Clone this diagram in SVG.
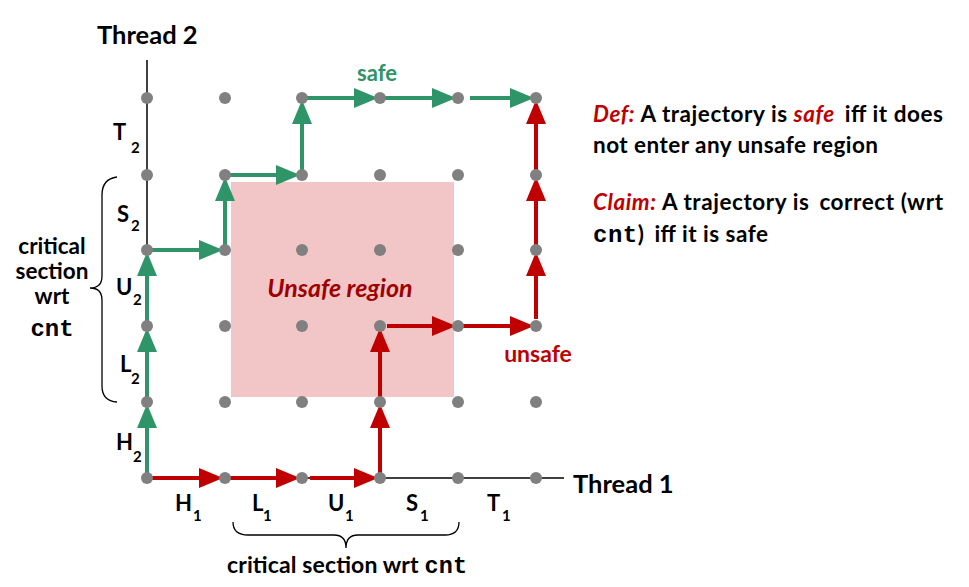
<svg xmlns="http://www.w3.org/2000/svg" width="969" height="587" viewBox="0 0 969 587">
<defs>
<style>
text{font-family:Lato,"Liberation Sans",sans-serif;font-weight:bold;fill:#000}
.lab{font-size:22px}
.sub{font-size:15px}
.mono{font-family:"Liberation Mono","DejaVu Sans Mono",monospace;font-weight:bold}
.red{fill:#C00000;font-style:italic}
.g{stroke:#2F9467;stroke-width:4;fill:none;marker-end:url(#ag)}
.r{stroke:#C00000;stroke-width:4;fill:none;marker-end:url(#ar)}
.dot{fill:#808080}
.axis{stroke:#000;stroke-width:1.5;fill:none}
.brace{stroke:#000;stroke-width:1.3;fill:none}
.def{font-size:22.5px}
</style>
<marker id="ag" markerUnits="userSpaceOnUse" markerWidth="26" markerHeight="20" refX="12" refY="10" orient="auto">
<path d="M0,0 L24,10 L0,20 z" fill="#2F9467"/>
</marker>
<marker id="ar" markerUnits="userSpaceOnUse" markerWidth="26" markerHeight="20" refX="12" refY="10" orient="auto">
<path d="M0,0 L24,10 L0,20 z" fill="#C00000"/>
</marker>
</defs>
<rect x="0" y="0" width="969" height="587" fill="#fff"/>

<g id="unsafe-region">
<rect x="231" y="182" width="223" height="215" fill="#F2C6C6"/>
<text x="340" y="297" text-anchor="middle" style="font-size:25px;font-style:italic;fill:#9E0000">Unsafe region</text>
</g>

<g id="axes">
<line class="axis" x1="147" y1="60" x2="147" y2="478"/>
<line class="axis" x1="147" y1="478" x2="564" y2="478"/>
<text x="97" y="44" style="font-size:25.5px">Thread 2</text>
<text x="573" y="493" style="font-size:25.5px">Thread 1</text>
</g>

<g id="thread2-labels">
<text class="lab" x="113" y="140">T<tspan class="sub" x="131" y="153">2</tspan></text>
<text class="lab" x="117" y="222">S<tspan class="sub" x="131" y="231">2</tspan></text>
<text class="lab" x="116" y="295">U<tspan class="sub" x="133" y="305">2</tspan></text>
<text class="lab" x="120" y="372">L<tspan class="sub" x="131" y="384">2</tspan></text>
<text class="lab" x="116" y="450">H<tspan class="sub" x="133" y="462">2</tspan></text>
</g>

<g id="thread1-labels">
<text class="lab" x="175" y="511">H<tspan class="sub" x="193" y="521">1</tspan></text>
<text class="lab" x="252" y="511">L<tspan class="sub" x="263" y="521">1</tspan></text>
<text class="lab" x="328" y="511">U<tspan class="sub" x="345" y="521">1</tspan></text>
<text class="lab" x="406" y="511">S<tspan class="sub" x="420" y="521">1</tspan></text>
<text class="lab" x="487" y="511">T<tspan class="sub" x="502" y="521">1</tspan></text>
</g>

<g id="crit-section-2">
<path class="brace" d="M117,177 Q102,179 102,195 L102,276 Q102,288 90,288 Q102,288 102,300 L102,386 Q102,401 117,402"/>
<text x="52" y="254" text-anchor="middle" style="font-size:22.5px">critical</text>
<text x="52" y="279" text-anchor="middle" style="font-size:22.5px">section</text>
<text x="52" y="304" text-anchor="middle" style="font-size:22.5px">wrt</text>
<text class="mono" x="52" y="336" text-anchor="middle" style="font-size:24px">cnt</text>
</g>

<g id="crit-section-1">
<path class="brace" d="M233,522 Q233,535 248,535 L334,535 Q346,535 346,548 Q346,535 358,535 L445,535 Q459,535 459,522"/>
<text x="227" y="573" style="font-size:23px" textLength="240">critical section wrt <tspan class="mono" style="font-size:23.5px">cnt</tspan></text>
</g>

<g id="connectors">
<g id="safe-trajectory">
<line class="g" x1="147" y1="478" x2="147" y2="416"/>
<line class="g" x1="147" y1="402" x2="147" y2="340"/>
<line class="g" x1="147" y1="326" x2="147" y2="264"/>
<line class="g" x1="147" y1="250" x2="211" y2="250"/>
<line class="g" x1="225" y1="250" x2="225" y2="189"/>
<line class="g" x1="225" y1="175" x2="288" y2="175"/>
<line class="g" x1="302" y1="175" x2="302" y2="112"/>
<line class="g" x1="302" y1="98" x2="366" y2="98"/>
<line class="g" x1="380" y1="98" x2="444" y2="98"/>
<line class="g" x1="470" y1="98" x2="522" y2="98"/>
</g>
<g id="unsafe-trajectory">
<line class="r" x1="147" y1="478" x2="211" y2="478"/>
<line class="r" x1="225" y1="478" x2="288" y2="478"/>
<line class="r" x1="310" y1="478" x2="366" y2="478"/>
<line class="r" x1="380" y1="478" x2="380" y2="416"/>
<line class="r" x1="380" y1="402" x2="380" y2="340"/>
<line class="r" x1="387" y1="326" x2="444" y2="326"/>
<line class="r" x1="458" y1="326" x2="522" y2="326"/>
<line class="r" x1="536" y1="319" x2="536" y2="264"/>
<line class="r" x1="536" y1="250" x2="536" y2="189"/>
<line class="r" x1="536" y1="175" x2="536" y2="112"/>
</g>
</g>

<g id="grid-points">
<circle class="dot" cx="147" cy="98" r="6"/><circle class="dot" cx="225" cy="98" r="6"/><circle class="dot" cx="302" cy="98" r="6"/><circle class="dot" cx="380" cy="98" r="6"/><circle class="dot" cx="458" cy="98" r="6"/><circle class="dot" cx="536" cy="98" r="6"/>
<circle class="dot" cx="147" cy="175" r="6"/><circle class="dot" cx="225" cy="175" r="6"/><circle class="dot" cx="302" cy="175" r="6"/><circle class="dot" cx="380" cy="175" r="6"/><circle class="dot" cx="458" cy="175" r="6"/><circle class="dot" cx="536" cy="175" r="6"/>
<circle class="dot" cx="147" cy="250" r="6"/><circle class="dot" cx="225" cy="250" r="6"/><circle class="dot" cx="302" cy="250" r="6"/><circle class="dot" cx="380" cy="250" r="6"/><circle class="dot" cx="458" cy="250" r="6"/><circle class="dot" cx="536" cy="250" r="6"/>
<circle class="dot" cx="147" cy="326" r="6"/><circle class="dot" cx="225" cy="326" r="6"/><circle class="dot" cx="302" cy="326" r="6"/><circle class="dot" cx="380" cy="326" r="6"/><circle class="dot" cx="458" cy="326" r="6"/><circle class="dot" cx="536" cy="326" r="6"/>
<circle class="dot" cx="147" cy="402" r="6"/><circle class="dot" cx="225" cy="402" r="6"/><circle class="dot" cx="302" cy="402" r="6"/><circle class="dot" cx="380" cy="402" r="6"/><circle class="dot" cx="458" cy="402" r="6"/><circle class="dot" cx="536" cy="402" r="6"/>
<circle class="dot" cx="147" cy="478" r="6"/><circle class="dot" cx="225" cy="478" r="6"/><circle class="dot" cx="302" cy="478" r="6"/><circle class="dot" cx="380" cy="478" r="6"/><circle class="dot" cx="458" cy="478" r="6"/><circle class="dot" cx="536" cy="478" r="6"/>
</g>

<g id="labels">
<text x="377" y="81" text-anchor="middle" style="font-size:22px;fill:#2F9467">safe</text>
<text x="538" y="362" text-anchor="middle" style="font-size:23px;fill:#C00000">unsafe</text>
</g>

<g id="definitions">
<text class="def" x="593" y="122" textLength="350"><tspan class="red">Def:</tspan> A trajectory is <tspan class="red">safe</tspan><tspan dx="10">iff it does</tspan></text>
<text class="def" x="593" y="153" textLength="285">not enter any unsafe region</text>
<text class="def" x="593" y="210" textLength="350"><tspan class="red">Claim:</tspan> A trajectory is<tspan dx="10">correct (wrt</tspan></text>
<text class="def" x="593" y="242" textLength="175"><tspan class="mono" style="font-size:24px">cnt</tspan>)<tspan dx="10">iff it is safe</tspan></text>
</g>
</svg>
